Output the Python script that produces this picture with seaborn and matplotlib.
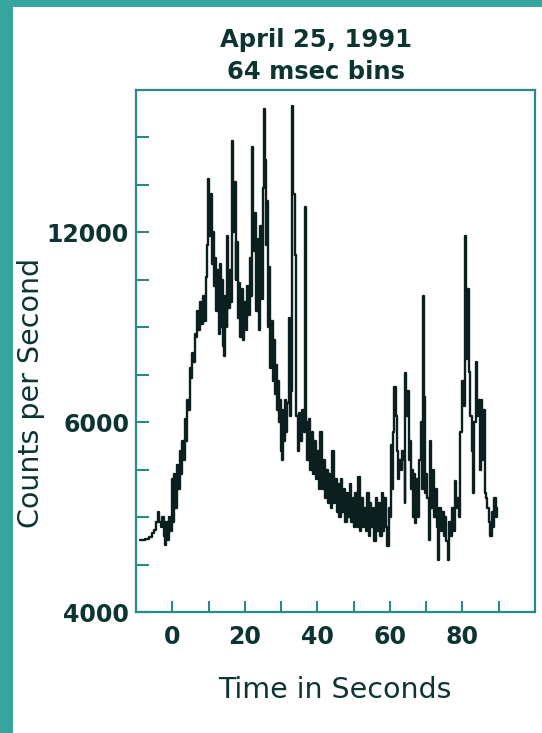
import numpy as np
import pandas as pd
import matplotlib
matplotlib.use("Agg")
import matplotlib.pyplot as plt
from matplotlib.patches import Rectangle
import seaborn as sns

# light curve (seconds, counts per second)
t_rise = [-8.8, -8.0, -7.0, -6.0, -5.2, -4.7, -4.2, -3.8, -3.4, -3.0, -2.6, -2.2, -1.9, -1.5,
          -1.1, -0.7, -0.3, 0.0, 0.3, 0.7, 1.0, 1.4, 1.8, 2.2, 2.6, 3.0, 3.3, 3.6, 4.0, 4.3,
          4.6, 4.9, 5.2, 5.6, 6.0, 6.3]
c_rise = [4760, 4760, 4770, 4790, 4830, 4860, 4950, 5050, 4950, 4900, 5000, 4800, 4710, 4950,
          4760, 5000, 4850, 5400, 4950, 5450, 5100, 5550, 5300, 5700, 5450, 5800, 5600, 6100,
          5800, 6700, 6400, 7700, 7400, 8200, 7900, 8800]

t_main = [6.6, 7.0, 7.4, 7.8, 8.2, 8.6, 9.0, 9.4, 9.8, 10.1, 10.4, 10.7, 11.0, 11.3, 11.6,
          12.0, 12.3, 12.6, 12.9, 13.2, 13.5, 13.8, 14.1, 14.5, 14.8, 15.1, 15.3, 15.6, 16.0,
          16.4, 16.7, 17.0, 17.3, 17.6, 17.8, 18.2, 18.6, 19.0, 19.2, 19.6, 20.0, 20.4, 20.8,
          21.2, 21.6, 22.0, 22.2, 22.5, 22.7, 23.0, 23.3, 23.7, 24.0, 24.4, 24.8, 25.1, 25.5,
          25.8, 26.0, 26.3, 26.6, 26.9, 27.2, 27.5]
c_main = [8700, 9500, 8900, 9800, 9100, 10000, 9200, 10600, 11600, 13700, 11900, 13200, 11000,
          12000, 10300, 11200, 9500, 10800, 8800, 11000, 9000, 10500, 8400, 8100, 10000, 9000,
          11900, 9600, 10800, 9800, 14900, 12000, 13600, 10500, 11700, 9300, 10400, 8700, 10200,
          8600, 9800, 8900, 10300, 9400, 11200, 10000, 14700, 12000, 11400, 12600, 9500, 11800,
          8900, 12200, 9900, 13400, 15900, 14300, 11600, 13000, 9000, 10900, 7700, 9200]

t_decay = [27.8, 28.1, 28.4, 28.7, 29.0, 29.3, 29.6, 29.9, 30.2, 30.4, 30.7, 31.0, 31.3, 31.6,
           31.9, 32.3, 32.6, 33.0, 33.2, 33.6, 34.0, 34.4, 34.8, 35.2, 35.6, 36.0, 36.4, 36.7,
           37.0, 37.4, 37.8, 38.2, 38.6, 39.0, 39.4, 39.8, 40.2, 40.6, 41.1, 41.5, 41.9, 42.3,
           42.7, 43.1, 43.5, 43.9, 44.3, 44.7, 45.1, 45.5, 45.9, 46.3, 46.7, 47.1, 47.5, 47.9,
           48.3, 48.7, 49.1, 49.5, 49.9, 50.3, 50.7, 51.1, 51.5, 51.9, 52.3, 52.7, 53.1, 53.5,
           53.9, 54.3, 54.7, 55.1, 55.5, 55.9, 56.3, 56.7, 57.1, 57.5, 57.9, 58.3, 58.7, 59.1,
           59.5, 59.9]
c_decay = [7300, 8600, 6900, 7800, 6400, 7300, 6000, 6700, 5700, 5600, 6400, 5800, 6700, 5900,
           6600, 9300, 6200, 7000, 16000, 13200, 11300, 6200, 5700, 6300, 5800, 6400, 5900, 12800,
           6000, 5600, 6100, 5500, 5900, 5450, 5800, 5400, 5700, 5300, 5900, 5300, 5600, 5200,
           5500, 5150, 5450, 5100, 5700, 5150, 5400, 5050, 5350, 5000, 5400, 5050, 5300, 4950,
           5250, 5000, 5350, 4950, 5200, 4900, 5250, 4900, 5420, 4850, 5200, 4900, 5100, 4850,
           5250, 4800, 5150, 4900, 5100, 4750, 5200, 4850, 5150, 4800, 5250, 4850, 5200, 4900,
           4700, 5100]

t_second = [60.3, 60.5, 60.8, 61.1, 61.4, 61.7, 62.0, 62.4, 62.8, 63.2, 63.6, 64.0, 64.1, 64.4,
            64.7, 65.0, 65.3, 65.6, 65.9, 66.2, 66.5, 66.8, 67.1, 67.5, 67.9, 68.3, 68.8, 69.0,
            69.3, 69.6, 69.9, 70.2, 70.5, 71.0, 71.3, 71.6, 72.0, 72.4, 72.8, 73.2, 73.4, 73.8,
            74.2, 74.6, 75.0, 75.4, 75.8, 76.2, 76.6, 77.0, 77.4, 77.8, 78.1, 78.4, 78.8, 79.2,
            79.7, 80.2, 80.5, 80.8, 81.1, 81.6, 82.0, 82.4, 82.8, 83.1, 83.5, 83.8, 84.1, 84.5,
            84.9, 85.2, 85.5, 85.9, 86.3, 86.6, 87.0, 87.4, 87.9, 88.3, 88.6, 89.0, 89.3, 89.6]
c_second = [5000, 5760, 5300, 5900, 7100, 6200, 5700, 5400, 5600, 5500, 5700, 5600, 5150, 7550,
            6200, 7000, 5600, 5800, 5300, 5500, 5000, 5450, 4940, 5400, 5000, 5600, 6000, 5300,
            10000, 6800, 5250, 5450, 5200, 4760, 5800, 5100, 5500, 5000, 5300, 4900, 4550, 5100,
            4850, 5050, 4800, 5000, 4750, 4550, 4950, 4800, 5100, 4850, 5380, 5100, 5200, 5000,
            5900, 7300, 6500, 11900, 8000, 10200, 7600, 6200, 5700, 5250, 6000, 7900, 6200, 6700,
            5500, 6700, 5600, 6400, 5250, 5200, 5100, 4950, 4800, 5050, 4900, 5200, 5000, 5100]

title_lines = ["April 25, 1991", "64 msec bins"]
x_major = [0, 20, 40, 60, 80]
x_minor = [10, 30, 50, 70, 90]
y_major = [4000, 6000, 12000]
y_minor = [4500, 5000, 5500, 7500, 9000, 10500, 13500, 15000]

df = pd.DataFrame({
    "t": t_rise + t_main + t_decay + t_second,
    "counts": c_rise + c_main + c_decay + c_second,
})

TEAL = "#36a5a2"
FRAME = "#2a8986"
INK = "#0c3433"


# the original axis is stretched: 4000-6000 and 6000-12000 take the same height
def fwd(c):
    c = np.asarray(c, dtype=float)
    return np.where(c < 6000, (c - 4000) / 500.0, 4 + (c - 6000) / 1500.0)


def inv(u):
    u = np.asarray(u, dtype=float)
    return np.where(u < 4, 4000 + 500.0 * u, 6000 + 1500.0 * (u - 4))


sns.set_style("white")
plt.rcParams["font.family"] = ["DejaVu Sans"]

W, H = 542, 733
fig = plt.figure(figsize=(W / 100, H / 100), dpi=100)
fig.patch.set_facecolor("white")

# teal page border (left and top)
fig.patches.append(Rectangle((0, 0), 13 / W, 1, transform=fig.transFigure,
                             facecolor=TEAL, edgecolor="none", zorder=0))
fig.patches.append(Rectangle((0, 1 - 7 / H), 1, 7 / H, transform=fig.transFigure,
                             facecolor=TEAL, edgecolor="none", zorder=0))

ax = fig.add_axes([136 / W, 1 - 612 / H, (535 - 136) / W, (612 - 90) / H])
# binned light curve, so draw it as steps
sns.lineplot(data=df, x="t", y="counts", ax=ax, estimator=None, sort=False,
             color="#0b1f1e", linewidth=1.7, drawstyle="steps-mid")

ax.set_yscale("function", functions=(fwd, inv))
ax.set_xlim(-10, 100)
ax.set_ylim(4000, 16500)
ax.set_xticks(x_major)
ax.set_xticks(x_minor, minor=True)
ax.set_yticks(y_major)
ax.set_yticks(y_minor, minor=True)
ax.set_xticklabels([str(v) for v in x_major])
ax.set_yticklabels([str(v) for v in y_major])
ax.set_xlabel("")
ax.set_ylabel("")

for s in ax.spines.values():
    s.set_visible(True)
    s.set_color(FRAME)
    s.set_linewidth(1.6)

ax.tick_params(axis="x", which="both", bottom=True, top=False, direction="in",
               length=8, width=1.5, color=FRAME, pad=9)
ax.tick_params(axis="y", which="both", left=True, right=False, direction="in",
               length=9.5, width=1.5, color=FRAME, pad=5)
for lab in ax.get_xticklabels() + ax.get_yticklabels():
    lab.set_fontsize(17)
    lab.set_fontweight("bold")
    lab.set_color(INK)

fig.text(316 / W, 1 - 40 / H, title_lines[0], ha="center", va="center",
         fontsize=17.5, fontweight="bold", color=INK)
fig.text(316 / W, 1 - 72 / H, title_lines[1], ha="center", va="center",
         fontsize=17.5, fontweight="bold", color=INK)

fig.text(335 / W, 1 - 690 / H, "Time in Seconds", ha="center", va="center",
         fontsize=20.5, color=INK)
fig.text(31 / W, 1 - 393 / H, "Counts per Second", ha="center", va="center",
         rotation=90, fontsize=20.5, color=INK)

fig.savefig("out.png", dpi=100, facecolor="white")
